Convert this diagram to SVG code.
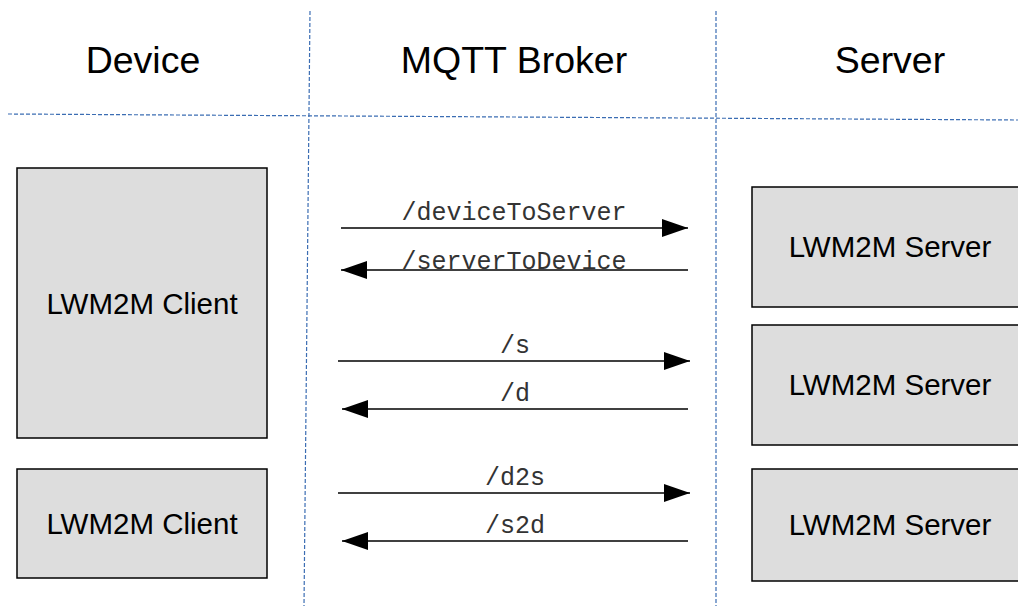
<svg xmlns="http://www.w3.org/2000/svg" width="1018" height="609" viewBox="0 0 1018 609">
  <style>
    .lane { stroke: #3b6db3; stroke-width: 1.2; stroke-dasharray: 4 2; fill: none; }
    .box { fill: #dddddd; stroke: #000; stroke-width: 1.5; }
    .head { font-family: "Liberation Sans", Arial, sans-serif; font-size: 37.5px; fill: #000; text-anchor: middle; }
    .label { font-family: "Liberation Sans", Arial, sans-serif; font-size: 29.5px; fill: #000; text-anchor: middle; }
    .topic { font-family: "Liberation Mono", "Courier New", monospace; font-size: 25px; fill: #333; text-anchor: middle; }
    .msg { stroke: #000; stroke-width: 1.5; fill: none; }
  </style>
  <defs>
    <marker id="arrow" viewBox="0 0 26 18" refX="26" refY="9" markerWidth="26" markerHeight="18" markerUnits="userSpaceOnUse" orient="auto">
      <path d="M0,0 L26,9 L0,18 Z" fill="#000"/>
    </marker>
  </defs>
  <rect width="1018" height="609" fill="#fff"/>

  <!-- swim-lane separators -->
  <g id="lanes">
    <line class="lane" x1="8" y1="114" x2="1018" y2="120"/>
    <line class="lane" x1="310" y1="11" x2="304" y2="606"/>
    <line class="lane" x1="716" y1="11" x2="716" y2="606"/>
  </g>

  <!-- lane headings -->
  <g id="headings">
    <text class="head" x="143" y="73">Device</text>
    <text class="head" x="514" y="73">MQTT Broker</text>
    <text class="head" x="890" y="73">Server</text>
  </g>

  <g id="client1">
    <rect class="box" x="17" y="168" width="250" height="270"/>
    <text class="label" x="142" y="314">LWM2M Client</text>
  </g>
  <g id="client2">
    <rect class="box" x="17" y="469" width="250" height="109"/>
    <text class="label" x="142" y="534">LWM2M Client</text>
  </g>
  <g id="server1">
    <rect class="box" x="752" y="187" width="280" height="120"/>
    <text class="label" x="890" y="257">LWM2M Server</text>
  </g>
  <g id="server2">
    <rect class="box" x="752" y="325" width="280" height="120"/>
    <text class="label" x="890" y="395">LWM2M Server</text>
  </g>
  <g id="server3">
    <rect class="box" x="752" y="469" width="280" height="112"/>
    <text class="label" x="890" y="535">LWM2M Server</text>
  </g>

  <!-- topic connectors -->
  <g id="connectors">
    <line class="msg" x1="341" y1="228" x2="688" y2="228" marker-end="url(#arrow)"/>
    <text class="topic" x="514" y="220">/deviceToServer</text>
    <line class="msg" x1="688" y1="270" x2="341" y2="270" marker-end="url(#arrow)"/>
    <text class="topic" x="514" y="269">/serverToDevice</text>

    <line class="msg" x1="338" y1="361" x2="690" y2="361" marker-end="url(#arrow)"/>
    <text class="topic" x="515" y="353">/s</text>
    <line class="msg" x1="688" y1="409" x2="342" y2="409" marker-end="url(#arrow)"/>
    <text class="topic" x="515" y="401">/d</text>

    <line class="msg" x1="338" y1="493" x2="690" y2="493" marker-end="url(#arrow)"/>
    <text class="topic" x="515" y="485">/d2s</text>
    <line class="msg" x1="688" y1="541" x2="342" y2="541" marker-end="url(#arrow)"/>
    <text class="topic" x="515" y="533">/s2d</text>
  </g>
</svg>
